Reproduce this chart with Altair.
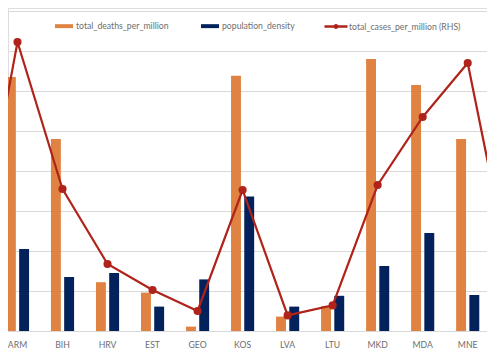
import altair as alt
import pandas as pd

# categories (ALB / SRB sit just outside the visible crop)
countries = ["ALB", "ARM", "BIH", "HRV", "EST", "GEO", "KOS", "LVA", "LTU", "MKD", "MDA", "MNE", "SRB"]
bar_countries = ["ARM", "BIH", "HRV", "EST", "GEO", "KOS", "LVA", "LTU", "MKD", "MDA", "MNE"]
total_deaths_per_million = [317.5, 240, 61, 48, 5.5, 319, 18, 31, 340, 307.5, 240]
population_density = [102.5, 67.5, 72.5, 30.5, 64.5, 168, 30.5, 44, 81.25, 122.5, 45]
total_cases_per_million = [2300, 14450, 7100, 3350, 2050, 1000, 7050, 780, 1280, 7300, 10700, 13400, 2300]

DEATHS = "total_deaths_per_million"
DENS = "population_density"
CASES = "total_cases_per_million (RHS)"

bars = pd.DataFrame(
    [{"country": c, "series": DEATHS, "value": v} for c, v in zip(bar_countries, total_deaths_per_million)]
    + [{"country": c, "series": DENS, "value": v} for c, v in zip(bar_countries, population_density)]
)
line = pd.DataFrame({"country": countries, "series": CASES, "value": total_cases_per_million})

FONT = "Lato"
GREY = "#6e6e6e"
RED = "#B0231A"
FS = 8.7

xscale = alt.Scale(domain=countries, range=[-47.1, 516.3], paddingInner=0.486, paddingOuter=0)
xaxis = alt.Axis(title=None, ticks=False, domain=True, domainColor="#d9d9d9", domainWidth=1,
                 labelColor=GREY, labelFont=FONT, labelFontSize=FS, labelPadding=9, labelAngle=0,
                 labelExpr="datum.value == 'ALB' || datum.value == 'SRB' ? '' : datum.value")

bar_layer = alt.Chart(bars).mark_bar(clip=True).encode(
    x=alt.X("country:N", scale=xscale, axis=xaxis, sort=countries),
    xOffset=alt.XOffset("series:N", scale=alt.Scale(domain=[DEATHS, DENS], paddingInner=0.25, paddingOuter=0)),
    y=alt.Y("value:Q", scale=alt.Scale(domain=[0, 403.75], nice=False, zero=True),
            axis=alt.Axis(title=None, labels=False, ticks=False, domain=False, grid=True,
                          gridColor="#d9d9d9", gridWidth=1, values=[0, 50, 100, 150, 200, 250, 300, 350, 400])),
    color=alt.Color("series:N", scale=alt.Scale(domain=[DEATHS, DENS], range=["#E08342", "#03215A"]),
                    legend=alt.Legend(title=None, orient="none", legendX=47, legendY=9, direction="horizontal",
                                      symbolType="M-1,-0.22H1V0.22H-1Z", symbolSize=324, symbolStrokeWidth=0,
                                      labelOffset=3, columnPadding=32, labelFont=FONT, labelFontSize=FS,
                                      labelColor=GREY, padding=0)),
)

rscale = alt.Scale(domain=[0, 16150], nice=False, zero=True)

line_layer = alt.Chart(line).mark_line(color=RED, strokeWidth=2.2, clip=True).encode(
    x=alt.X("country:N", scale=xscale, axis=xaxis, sort=countries),
    y=alt.Y("value:Q", scale=rscale, axis=None),
)

point_layer = alt.Chart(line).mark_circle(size=66, opacity=1, clip=True).encode(
    x=alt.X("country:N", scale=xscale, axis=xaxis, sort=countries),
    y=alt.Y("value:Q", scale=rscale, axis=None),
    color=alt.Color("series:N", scale=alt.Scale(domain=[CASES], range=[RED]),
                    legend=alt.Legend(title=None, orient="none", legendX=316, legendY=6.5,
                                      symbolType="M-1,-0.1H1V0.1H-1Z M-0.22,0A0.22,0.22 0 1,1 0.22,0A0.22,0.22 0 1,1 -0.22,0Z",
                                      symbolSize=530, symbolStrokeWidth=0, labelOffset=1,
                                      labelFont=FONT, labelFontSize=FS, labelColor=GREY, padding=0)),
)

chart = alt.layer(bar_layer, line_layer, point_layer).resolve_scale(
    y="independent", color="independent"
).properties(
    width=479, height=323,
    autosize=alt.AutoSizeParams(type="none"),
    padding={"left": 0, "top": 0, "right": 0, "bottom": 19},
).configure_view(stroke=None).configure(background="white")

chart.save("out.html", embed_options={"renderer": "svg", "actions": False})
